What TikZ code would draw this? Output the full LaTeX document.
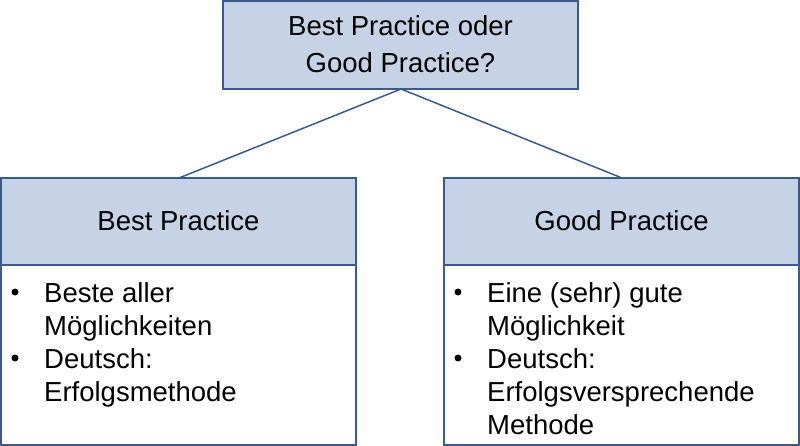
\documentclass[tikz,border=0pt]{standalone}
\usepackage{fontspec}
\setmainfont{Liberation Sans}
\definecolor{boxfill}{HTML}{C6D3E7}
\definecolor{boxline}{HTML}{3A5A8C}
\begin{document}
\begin{tikzpicture}[x=1pt,y=-1pt,
  hdr/.style={draw=boxline,line width=1.2pt,fill=boxfill},
  bdy/.style={draw=boxline,line width=1.2pt,fill=white},
  conn/.style={draw=boxline,line width=1.5pt},
  txt/.style={font=\fontsize{27.5}{37}\selectfont,anchor=base,inner sep=0pt},
  ltxt/.style={font=\fontsize{27.5}{33}\selectfont,anchor=base west,inner sep=0pt},
  bul/.style={fill=black,circle,inner sep=0pt,minimum size=7pt}]
\useasboundingbox (0,0) rectangle (800,446);
\coordinate (topb) at (401,89);
\coordinate (lt) at (179,178);
\coordinate (rt) at (622,178);
\draw[conn] (topb) -- (lt);
\draw[conn] (topb) -- (rt);
\draw[hdr] (223,1) rectangle (578,89);
\node[txt] (top1) at (400.5,36) {Best Practice oder};
\node[txt] (top2) at (400.5,73) {Good Practice?};
\draw[hdr] (1,178) rectangle (356,265);
\node[txt] (lh) at (178.5,231) {Best Practice};
\draw[bdy] (1,265) rectangle (356,445);
\draw[hdr] (444,178) rectangle (799,265);
\node[txt] (rh) at (621.5,231) {Good Practice};
\draw[bdy] (444,265) rectangle (799,445);
\node[bul] (lb1) at (15,292) {};
\node[ltxt] (lx1) at (44,302) {Beste aller};
\node[ltxt] (lx1b) at (44,335) {Möglichkeiten};
\node[bul] (lb2) at (15,358) {};
\node[ltxt] (lx2) at (44,368) {Deutsch:};
\node[ltxt] (lx2b) at (44,401) {Erfolgsmethode};
\node[bul] (rb1) at (458,292) {};
\node[ltxt] (rx1) at (487,302) {Eine (sehr) gute};
\node[ltxt] (rx1b) at (487,335) {Möglichkeit};
\node[bul] (rb2) at (458,358) {};
\node[ltxt] (rx2) at (487,368) {Deutsch:};
\node[ltxt] (rx2b) at (487,401) {Erfolgsversprechende};
\node[ltxt] (rx2c) at (487,434) {Methode};
\end{tikzpicture}
\end{document}
